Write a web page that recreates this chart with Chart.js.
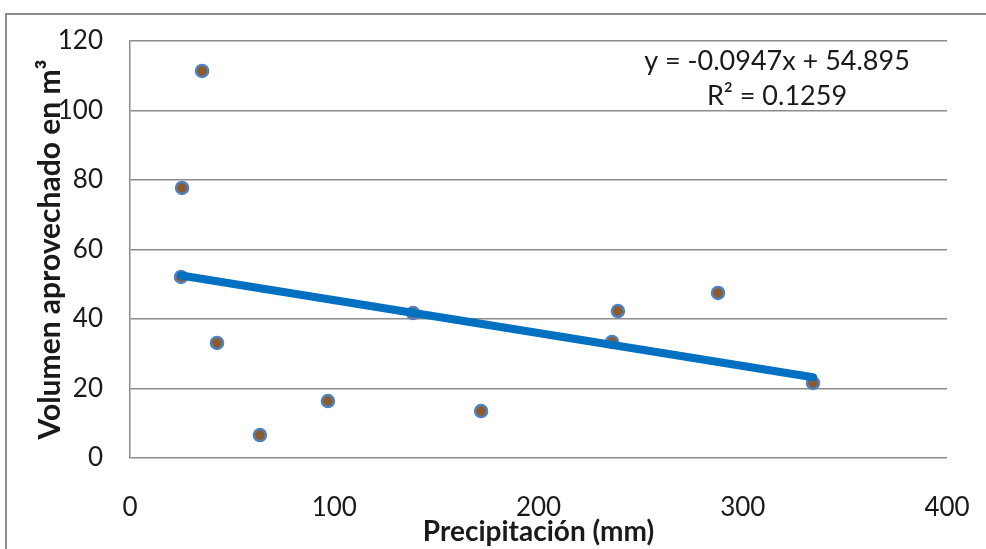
<!DOCTYPE html>
<html lang="es">
<head>
  <meta charset="UTF-8">
  <title>Volumen vs Precipitación</title>
  <script src="https://cdn.jsdelivr.net/npm/chart.js"></script>
  <style>
    body { margin: 0; background: #fff; overflow: hidden; }
    .frame { position: absolute; left: 5px; top: 13px; width: 990px; height: 560px;
             border-top: 2px solid #8c8c8c; border-left: 2px solid #8c8c8c; }
    .wrap { position: absolute; left: 0; top: 0; width: 986px; height: 549px; }
  </style>
</head>
<body>
<div class="frame"></div>
<div class="wrap"><canvas id="chart"></canvas></div>

<script>
  // precipitación (mm) / volumen aprovechado (m3)
  const precip = [35.3, 25.5, 25.0, 42.6, 63.6, 96.9, 138.6, 171.9, 236.0, 238.9, 287.9, 334.4];
  const volumen = [111.4, 77.7, 52.1, 33.1, 6.6, 16.4, 41.7, 13.5, 33.4, 42.3, 47.5, 21.6];
  const xTicks = [0, 100, 200, 300, 400];
  const yTicks = [0, 20, 40, 60, 80, 100, 120];
  const slope = -0.0947, intercept = 54.895;
  const eqLines = ['y = -0.0947x + 54.895', 'R\u00B2 = 0.1259'];

  const font = "Lato, 'Open Sans', sans-serif";
  const xMin = Math.min(...precip), xMax = Math.max(...precip);
  const trend = [xMin, xMax].map(x => ({ x: x, y: slope * x + intercept }));

  const eqPlugin = {
    id: 'eq',
    afterDraw(chart) {
      const ctx = chart.ctx;
      ctx.save();
      ctx.fillStyle = '#1a1a1a';
      ctx.font = '27px ' + font;
      ctx.textAlign = 'center';
      ctx.textBaseline = 'middle';
      ctx.fillText(eqLines[0], 777, 61);
      ctx.fillText(eqLines[1], 777, 96);
      ctx.restore();
    }
  };

  new Chart(document.getElementById('chart'), {
    type: 'scatter',
    data: {
      datasets: [
        { type: 'line', data: trend, borderColor: '#0070C0', borderWidth: 8,
          borderCapStyle: 'round', pointRadius: 0, order: 0 },
        { data: precip.map((x, i) => ({ x: x, y: volumen[i] })),
          backgroundColor: '#8E5A2C', borderColor: '#4F81BD', borderWidth: 2.5,
          pointRadius: 6, order: 1 }
      ]
    },
    options: {
      responsive: true,
      maintainAspectRatio: false,
      animation: false,
      layout: { padding: { top: 41, right: 39, left: 0, bottom: 0 } },
      plugins: { legend: { display: false }, tooltip: { enabled: false } },
      scales: {
        x: {
          type: 'linear', min: 0, max: 400,
          afterBuildTicks: s => { s.ticks = xTicks.map(v => ({ value: v })); },
          afterFit: s => { s.height = 91; s.paddingLeft = 0; s.paddingRight = 0; },
          grid: { display: false, drawTicks: false },
          border: { display: false },
          ticks: { padding: 34, color: '#1a1a1a', font: { family: font, size: 26 } },
          title: { display: true, text: 'Precipitación (mm)', color: '#1a1a1a',
                   padding: { top: 17, bottom: 0 }, font: { family: font, size: 28, weight: 'bold' } }
        },
        y: {
          min: 0, max: 120,
          afterBuildTicks: s => { s.ticks = yTicks.map(v => ({ value: v })); },
          afterFit: s => { s.width = 130; s.paddingTop = 0; s.paddingBottom = 0; },
          grid: { color: '#8c8c8c', lineWidth: 1.5, drawTicks: false },
          border: { display: true, color: '#8c8c8c', width: 1.5 },
          ticks: { padding: 27, color: '#1a1a1a', font: { family: font, size: 26 } },
          title: { display: true, text: 'Volumen aprovechado en m\u00B3', color: '#1a1a1a',
                   padding: { top: 32, bottom: 0 }, font: { family: font, size: 30, weight: 'bold' } }
        }
      }
    },
    plugins: [eqPlugin]
  });
</script>
</body>
</html>
